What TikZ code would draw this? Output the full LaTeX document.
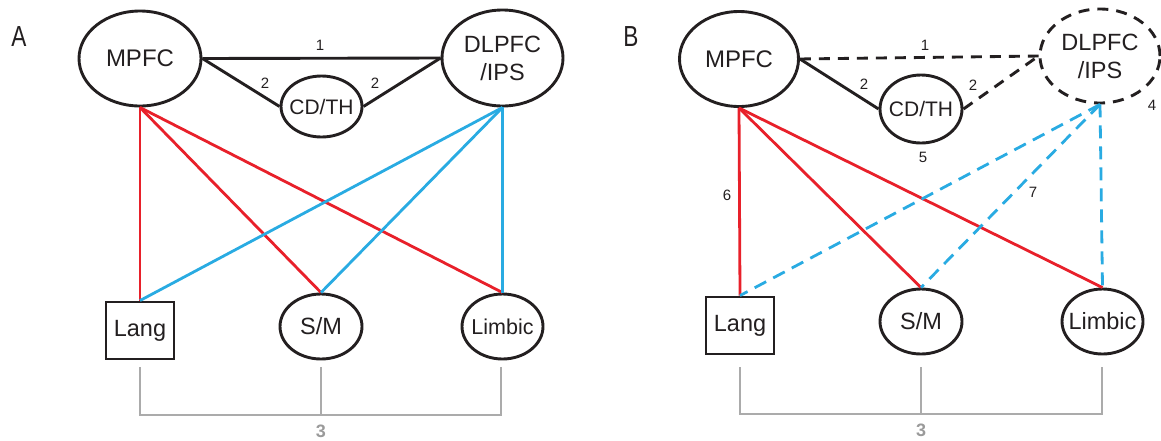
\documentclass[tikz,border=0pt]{standalone}
\usepackage{fontspec}
\setmainfont{Liberation Sans}
\newfontfamily\condfont[FakeStretch=0.78]{Liberation Sans}
\usetikzlibrary{shapes.geometric}
\definecolor{cred}{HTML}{E8202A}
\definecolor{cblue}{HTML}{29ABE2}
\definecolor{cgray}{HTML}{ABABAB}
\definecolor{cnum}{HTML}{9A9A9A}
\definecolor{cblk}{HTML}{231F20}
\begin{document}
\begin{tikzpicture}[x=1pt,y=-1pt,
  region/.style={ellipse, draw=cblk, line width=2.9pt, inner sep=-8pt, text=cblk,
    font=\fontsize{23.5}{28}\selectfont, align=center},
  boxregion/.style={rectangle, draw=cblk, line width=2.9pt, inner sep=0pt, text=cblk,
    font=\fontsize{23.5}{28}\selectfont, minimum width=68pt, minimum height=57pt},
  dashregion/.style={region, dash pattern=on 11pt off 8pt},
  blk/.style={draw=cblk, line width=2.9pt},
  blkdash/.style={blk, dash pattern=on 11pt off 8pt},
  redl/.style={draw=cred, line width=2.8pt},
  bluel/.style={draw=cblue, line width=2.8pt},
  bluedash/.style={bluel, dash pattern=on 13pt off 8pt},
  num/.style={text=cblk, font=\fontsize{15}{15}\selectfont, inner sep=0pt},
  panel/.style={text=cblk, font=\condfont\fontsize{29}{29}\selectfont, inner sep=0pt},
  brk/.style={draw=cgray, line width=1.3pt},
  brknum/.style={text=cnum, font=\bfseries\fontsize{18}{18}\selectfont, inner sep=0pt}
]
\useasboundingbox (0,0) rectangle (1161,440);

% ---------------- Panel A ----------------
\node[panel] (labA) at (19,37) {A};
\node[region, minimum width=122pt, minimum height=95pt, font=\fontsize{24}{28}\selectfont] (mpfcA) at (140,58.5) {MPFC};
\node[region, minimum width=81pt, minimum height=61pt, font=\fontsize{21}{24}\selectfont] (cdthA) at (321.5,106.5) {CD/TH};
\node[region, minimum width=121pt, minimum height=96pt] (dlpfcA) at (502.5,58) {DLPFC\\/IPS};
\node[boxregion] (langA) at (140,330.5) {Lang};
\node[region, minimum width=82pt, minimum height=65pt] (smA) at (321,326.5) {S/M};
\node[region, minimum width=81pt, minimum height=65pt, font=\fontsize{21.5}{24}\selectfont] (limbicA) at (502.5,326.5) {Limbic};

\draw[blk] (mpfcA.east) -- (dlpfcA.west);
\draw[blk] (mpfcA.east) -- (cdthA.west);
\draw[blk] (cdthA.east) -- (dlpfcA.west);

\draw[redl] (mpfcA.south) -- (langA.north);
\draw[redl] (mpfcA.south) -- (smA.north);
\draw[redl] (mpfcA.south) -- (limbicA.north);
\draw[bluel] (dlpfcA.south) -- (langA.north);
\draw[bluel] (dlpfcA.south) -- (smA.north);
\draw[bluel] (dlpfcA.south) -- (limbicA.north);

\node[num] (a1) at (320,45) {1};
\node[num] (a2l) at (265,83) {2};
\node[num] (a2r) at (375,83) {2};

\coordinate (ab1) at (140,367);
\coordinate (ab2) at (321,367);
\coordinate (ab3) at (501,367);
\coordinate (abl) at (140,415);
\coordinate (abm) at (321,415);
\coordinate (abr) at (501,415);
\draw[brk] (ab1) -- (abl) -- (abr) -- (ab3);
\draw[brk] (ab2) -- (abm);
\node[brknum] (a3) at (321,431) {3};

% ---------------- Panel B ----------------
\node[panel] (labB) at (631,37) {B};
\node[region, minimum width=119pt, minimum height=95pt, font=\fontsize{24}{28}\selectfont] (mpfcB) at (739,59) {MPFC};
\node[region, minimum width=82pt, minimum height=68pt, font=\fontsize{21}{24}\selectfont] (cdthB) at (921,109) {CD/TH};
\node[dashregion, minimum width=120pt, minimum height=94pt] (dlpfcB) at (1100,56) {DLPFC\\/IPS};
\node[boxregion] (langB) at (740,325.5) {Lang};
\node[region, minimum width=82pt, minimum height=65pt] (smB) at (921,321.5) {S/M};
\node[region, minimum width=81pt, minimum height=65pt] (limbicB) at (1102.5,321.5) {Limbic};

\draw[blkdash] (mpfcB.east) -- (dlpfcB.west);
\draw[blk] (mpfcB.east) -- (cdthB.west);
\draw[blkdash] (cdthB.east) -- (dlpfcB.west);

\draw[redl] (mpfcB.south) -- (langB.north);
\draw[redl] (mpfcB.south) -- (smB.north);
\draw[redl] (mpfcB.south) -- (limbicB.north);
\draw[bluedash] (dlpfcB.south) -- (langB.north);
\draw[bluedash] (dlpfcB.south) -- (smB.north);
\draw[bluedash] (dlpfcB.south) -- (limbicB.north);

\node[num] (b1) at (925,45) {1};
\node[num] (b2l) at (864,84) {2};
\node[num] (b2r) at (973,85) {2};
\node[num] (b4) at (1152,105) {4};
\node[num] (b5) at (923,157) {5};
\node[num] (b6) at (727,195) {6};
\node[num] (b7) at (1033,192) {7};

\coordinate (bb1) at (740,367);
\coordinate (bb2) at (921,367);
\coordinate (bb3) at (1102,367);
\coordinate (bbl) at (740,414);
\coordinate (bbm) at (921,414);
\coordinate (bbr) at (1102,414);
\draw[brk] (bb1) -- (bbl) -- (bbr) -- (bb3);
\draw[brk] (bb2) -- (bbm);
\node[brknum] (b3) at (921,430) {3};
\end{tikzpicture}
\end{document}
